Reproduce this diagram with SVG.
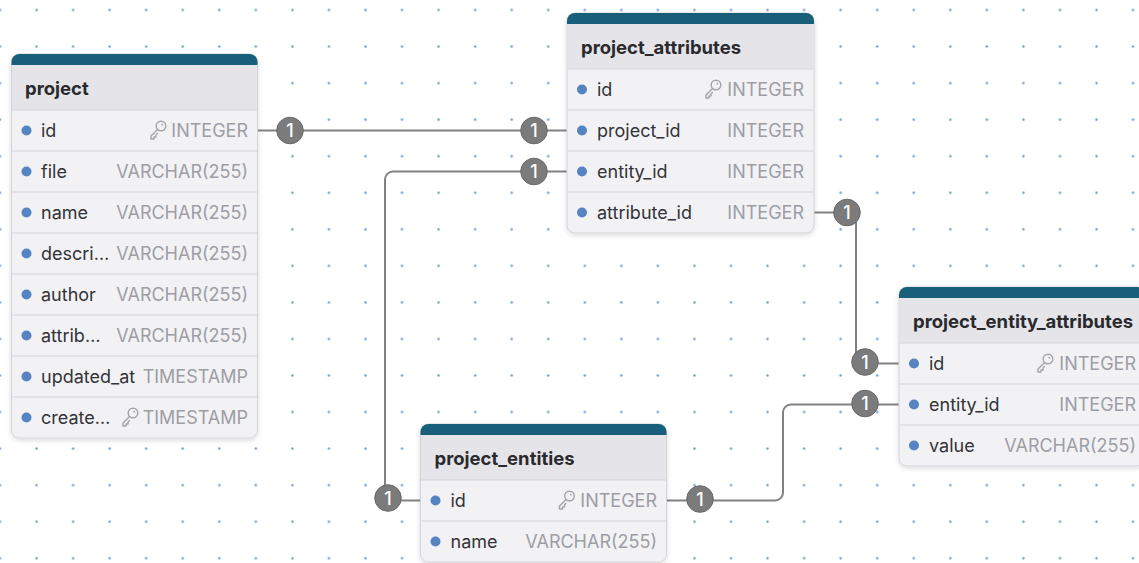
<svg xmlns="http://www.w3.org/2000/svg" width="1139" height="563" viewBox="0 0 1139 563">
  <style>
    .frame { fill: #f2f2f4; stroke: #d3d3da; stroke-width: 1; }
    .band { fill: #185f79; }
    .head { fill: #e5e5e9; }
    .rule { stroke: #d3d3da; stroke-width: 1.2; }
    .title { font-family: Inter, "Liberation Sans", sans-serif; font-size: 18.5px; font-weight: 700; fill: #2a2a2e; }
    .field { font-family: Inter, "Liberation Sans", sans-serif; font-size: 18px; fill: #333338; }
    .type { font-family: Inter, "Liberation Sans", sans-serif; font-size: 18px; fill: #9d9da6; text-anchor: end; }
    .dot { fill: #5683c2; }
    .key { fill: none; stroke: #a3a3ab; stroke-width: 1.4; stroke-linecap: round; stroke-linejoin: round; }
    .link { fill: none; stroke: #818181; stroke-width: 2; }
    .badge { fill: #7b7b7b; stroke: #6a6a6a; stroke-width: 1; }
    .one { font-family: Inter, "Liberation Sans", sans-serif; font-size: 18px; font-weight: 500; fill: #ffffff; text-anchor: middle; }
  </style>
  <defs>
    <pattern id="grid" patternUnits="userSpaceOnUse" x="-18.275" y="-8.275" width="36.55" height="36.55">
      <circle cx="18.275" cy="18.275" r="1.2" fill="#6a9bd0"/>
    </pattern>
    <filter id="shadow" x="-10%" y="-10%" width="120%" height="125%">
      <feDropShadow dx="0" dy="2" stdDeviation="2.5" flood-color="#000" flood-opacity="0.14"/>
    </filter>
    <!-- outline key glyph used for primary keys -->
    <g id="key">
      <circle cx="11" cy="-5" r="4.8" class="key"/>
      <circle cx="12.3" cy="-6.3" r="0.9" fill="#a3a3ab"/>
      <path d="M7.6 -1.6 L1 5 V8 H4 V6 H6 V4 L7.4 2.6" class="key"/>
    </g>
  </defs>

  <rect width="1139" height="563" fill="#ffffff"/>
  <rect width="1139" height="563" fill="url(#grid)"/>

  <!-- relationship lines -->
  <g id="connectors">
    <path class="link" d="M258 130.5 H567"/>
    <path class="link" d="M567 171.5 H393 A8 8 0 0 0 385 179.5 V492.5 A8 8 0 0 0 393 500.5 H420.5"/>
    <path class="link" d="M814 212.5 H848 A8 8 0 0 1 856 220.5 V355.5 A8 8 0 0 0 864 363.5 H899"/>
    <path class="link" d="M667 500.5 H775 A8 8 0 0 0 783 492.5 V412.5 A8 8 0 0 1 791 404.5 H899"/>
  </g>

  <!-- project -->
  <g id="project" transform="translate(11.5 54)">
    <g filter="url(#shadow)">
      <rect class="frame" x="0" y="0" width="246" height="384" rx="8"/>
    </g>
    <path class="band" d="M0 11 V8 A8 8 0 0 1 8 0 H238 A8 8 0 0 1 246 8 V11 Z"/>
    <rect class="head" x="0.5" y="11" width="245" height="45"/>
    <text class="title" x="13.5" y="40.5">project</text>
    <g class="rule">
      <line x1="0.5" y1="56" x2="245.5" y2="56"/>
      <line x1="0.5" y1="97" x2="245.5" y2="97"/>
      <line x1="0.5" y1="138" x2="245.5" y2="138"/>
      <line x1="0.5" y1="179" x2="245.5" y2="179"/>
      <line x1="0.5" y1="220" x2="245.5" y2="220"/>
      <line x1="0.5" y1="261" x2="245.5" y2="261"/>
      <line x1="0.5" y1="302" x2="245.5" y2="302"/>
      <line x1="0.5" y1="343" x2="245.5" y2="343"/>
    </g>
    <circle class="dot" cx="15" cy="76.5" r="5"/>
    <circle class="dot" cx="15" cy="117.5" r="5"/>
    <circle class="dot" cx="15" cy="158.5" r="5"/>
    <circle class="dot" cx="15" cy="199.5" r="5"/>
    <circle class="dot" cx="15" cy="240.5" r="5"/>
    <circle class="dot" cx="15" cy="281.5" r="5"/>
    <circle class="dot" cx="15" cy="322.5" r="5"/>
    <circle class="dot" cx="15" cy="363.5" r="5"/>
    <text class="field" x="29.5" y="83">id</text>
    <text class="field" x="29.5" y="124">file</text>
    <text class="field" x="29.5" y="165">name</text>
    <text class="field" x="29.5" y="206">descri…</text>
    <text class="field" x="29.5" y="247">author</text>
    <text class="field" x="29.5" y="288">attrib…</text>
    <text class="field" x="29.5" y="329">updated_at</text>
    <text class="field" x="29.5" y="370">create…</text>
    <use href="#key" x="138.5" y="77"/>
    <text class="type" x="236.5" y="83">INTEGER</text>
    <text class="type" x="236.5" y="124">VARCHAR(255)</text>
    <text class="type" x="236.5" y="165">VARCHAR(255)</text>
    <text class="type" x="236.5" y="206">VARCHAR(255)</text>
    <text class="type" x="236.5" y="247">VARCHAR(255)</text>
    <text class="type" x="236.5" y="288">VARCHAR(255)</text>
    <text class="type" x="236.5" y="329">TIMESTAMP</text>
    <use href="#key" x="110.5" y="364"/>
    <text class="type" x="236.5" y="370">TIMESTAMP</text>
  </g>

  <!-- project_attributes -->
  <g id="project_attributes" transform="translate(567 13)">
    <g filter="url(#shadow)">
      <rect class="frame" x="0" y="0" width="247" height="220" rx="8"/>
    </g>
    <path class="band" d="M0 11 V8 A8 8 0 0 1 8 0 H239 A8 8 0 0 1 247 8 V11 Z"/>
    <rect class="head" x="0.5" y="11" width="246" height="45"/>
    <text class="title" x="14" y="40.5">project_attributes</text>
    <g class="rule">
      <line x1="0.5" y1="56" x2="246.5" y2="56"/>
      <line x1="0.5" y1="97" x2="246.5" y2="97"/>
      <line x1="0.5" y1="138" x2="246.5" y2="138"/>
      <line x1="0.5" y1="179" x2="246.5" y2="179"/>
    </g>
    <circle class="dot" cx="15" cy="76.5" r="5"/>
    <circle class="dot" cx="15" cy="117.5" r="5"/>
    <circle class="dot" cx="15" cy="158.5" r="5"/>
    <circle class="dot" cx="15" cy="199.5" r="5"/>
    <text class="field" x="30" y="83">id</text>
    <text class="field" x="30" y="124">project_id</text>
    <text class="field" x="30" y="165">entity_id</text>
    <text class="field" x="30" y="206">attribute_id</text>
    <use href="#key" x="138" y="77"/>
    <text class="type" x="237" y="83">INTEGER</text>
    <text class="type" x="237" y="124">INTEGER</text>
    <text class="type" x="237" y="165">INTEGER</text>
    <text class="type" x="237" y="206">INTEGER</text>
  </g>

  <!-- project_entity_attributes -->
  <g id="project_entity_attributes" transform="translate(899 287)">
    <g filter="url(#shadow)">
      <rect class="frame" x="0" y="0" width="246" height="179" rx="8"/>
    </g>
    <path class="band" d="M0 11 V8 A8 8 0 0 1 8 0 H238 A8 8 0 0 1 246 8 V11 Z"/>
    <rect class="head" x="0.5" y="11" width="245" height="45"/>
    <text class="title" x="14" y="40.5">project_entity_attributes</text>
    <g class="rule">
      <line x1="0.5" y1="56" x2="245.5" y2="56"/>
      <line x1="0.5" y1="97" x2="245.5" y2="97"/>
      <line x1="0.5" y1="138" x2="245.5" y2="138"/>
    </g>
    <circle class="dot" cx="15" cy="76.5" r="5"/>
    <circle class="dot" cx="15" cy="117.5" r="5"/>
    <circle class="dot" cx="15" cy="158.5" r="5"/>
    <text class="field" x="30" y="83">id</text>
    <text class="field" x="30" y="124">entity_id</text>
    <text class="field" x="30" y="165">value</text>
    <use href="#key" x="138" y="77"/>
    <text class="type" x="237" y="83">INTEGER</text>
    <text class="type" x="237" y="124">INTEGER</text>
    <text class="type" x="237" y="165">VARCHAR(255)</text>
  </g>

  <!-- project_entities -->
  <g id="project_entities" transform="translate(420.5 424)">
    <g filter="url(#shadow)">
      <rect class="frame" x="0" y="0" width="246" height="138" rx="8"/>
    </g>
    <path class="band" d="M0 11 V8 A8 8 0 0 1 8 0 H238 A8 8 0 0 1 246 8 V11 Z"/>
    <rect class="head" x="0.5" y="11" width="245" height="45"/>
    <text class="title" x="14" y="40.5">project_entities</text>
    <g class="rule">
      <line x1="0.5" y1="56" x2="245.5" y2="56"/>
      <line x1="0.5" y1="97" x2="245.5" y2="97"/>
    </g>
    <circle class="dot" cx="15" cy="76.5" r="5"/>
    <circle class="dot" cx="15" cy="117.5" r="5"/>
    <text class="field" x="30" y="83">id</text>
    <text class="field" x="30" y="124">name</text>
    <use href="#key" x="138" y="77"/>
    <text class="type" x="236.5" y="83">INTEGER</text>
    <text class="type" x="236.5" y="124">VARCHAR(255)</text>
  </g>

  <!-- cardinality badges -->
  <g id="badges">
    <circle class="badge" cx="290" cy="130.5" r="13.3"/>
    <text class="one" x="290" y="137">1</text>
    <circle class="badge" cx="534" cy="130.5" r="13.3"/>
    <text class="one" x="534" y="137">1</text>
    <circle class="badge" cx="534" cy="171.5" r="13.3"/>
    <text class="one" x="534" y="178">1</text>
    <circle class="badge" cx="388" cy="498" r="13.3"/>
    <text class="one" x="388" y="504.5">1</text>
    <circle class="badge" cx="847" cy="212.5" r="13.3"/>
    <text class="one" x="847" y="219">1</text>
    <circle class="badge" cx="865" cy="362" r="13.3"/>
    <text class="one" x="865" y="368.5">1</text>
    <circle class="badge" cx="700" cy="499" r="13.3"/>
    <text class="one" x="700" y="505.5">1</text>
    <circle class="badge" cx="865" cy="403.5" r="13.3"/>
    <text class="one" x="865" y="410">1</text>
  </g>
</svg>
